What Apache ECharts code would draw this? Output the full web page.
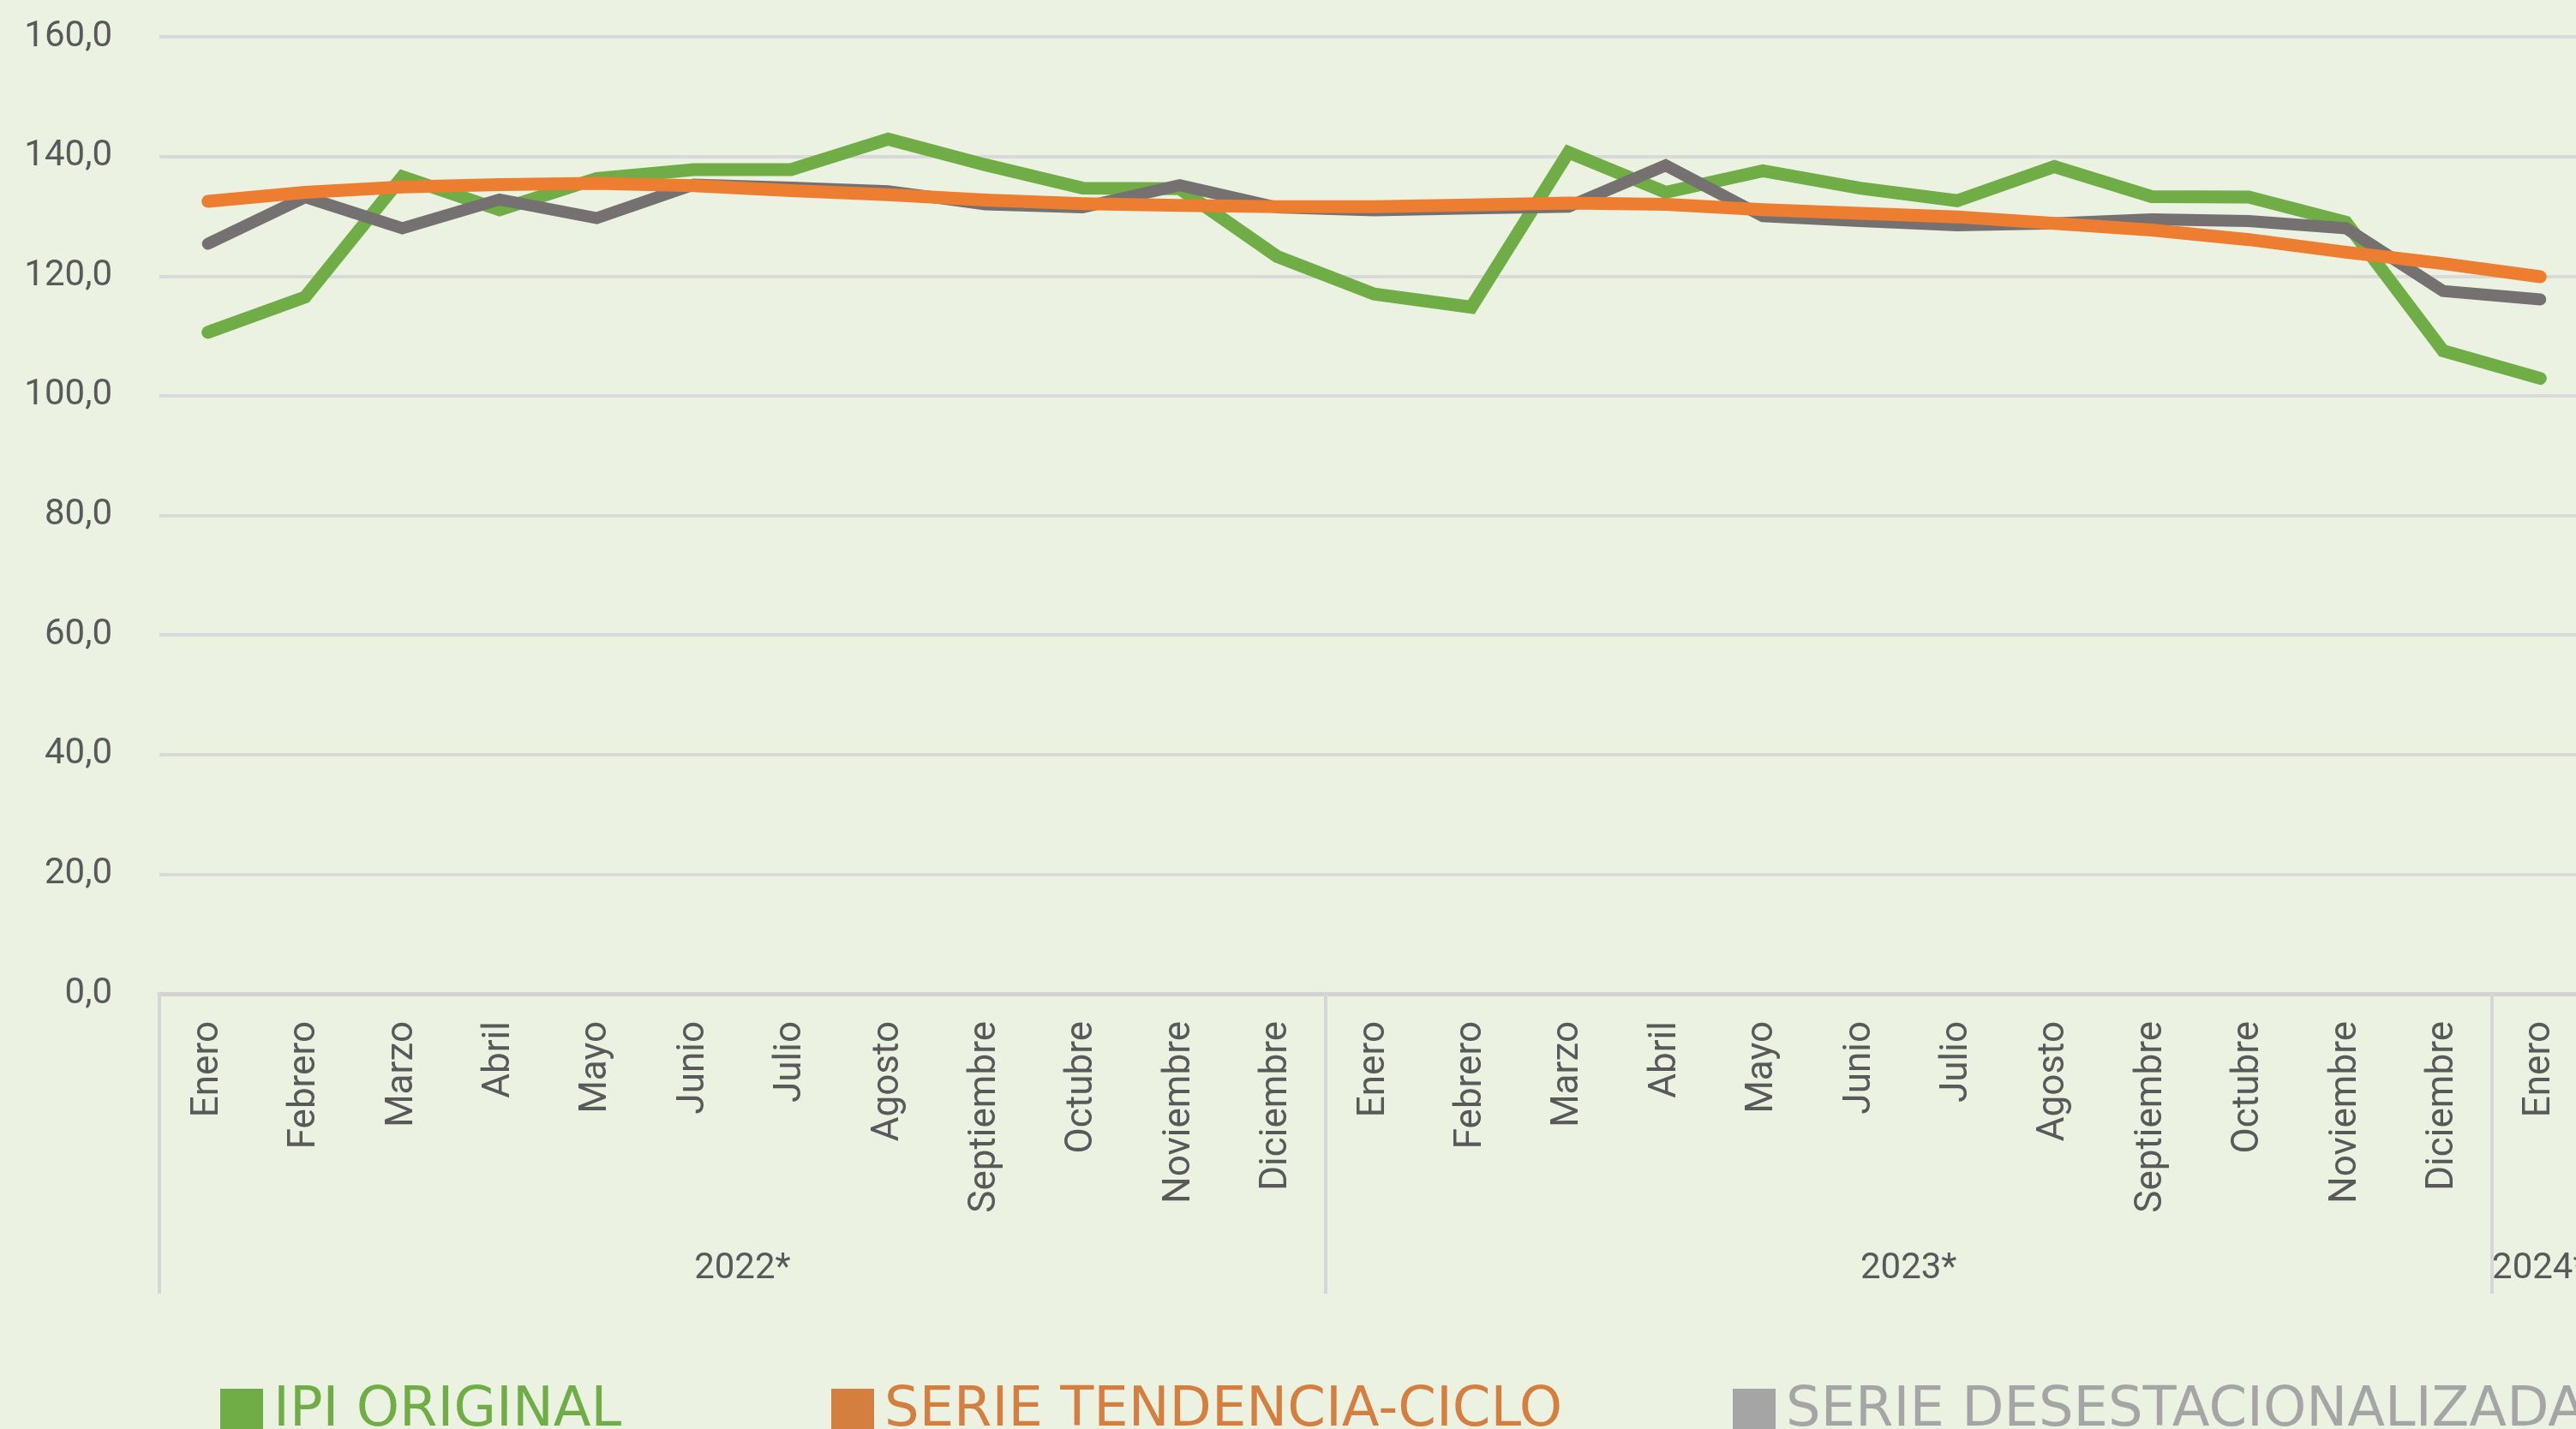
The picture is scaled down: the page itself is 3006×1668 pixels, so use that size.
<!DOCTYPE html>
<html>
<head>
<meta charset="utf-8">
<script src="https://cdn.jsdelivr.net/npm/echarts@6/dist/echarts.min.js"></script>
<style>
html,body{margin:0;padding:0;background:#EBF2E1;}
#chart{width:3006px;height:1668px;}
</style>
</head>
<body>
<div id="chart"></div>
<script>
// ---- data ----
const months = ['Enero','Febrero','Marzo','Abril','Mayo','Junio','Julio','Agosto','Septiembre','Octubre','Noviembre','Diciembre',
                'Enero','Febrero','Marzo','Abril','Mayo','Junio','Julio','Agosto','Septiembre','Octubre','Noviembre','Diciembre',
                'Enero'];
const yearLabels = ['2022*','2023*','2024*'];
const yearSpans = [12, 12, 1];
const yTicks = [0, 20, 40, 60, 80, 100, 120, 140, 160];

const ipiOriginal = [110.6,116.5,136.6,131.1,136.3,137.8,137.8,142.9,138.6,134.7,134.6,123.3,
                     117.0,114.8,140.7,134.0,137.6,134.7,132.6,138.3,133.3,133.2,129.0,107.5,
                     102.9];
const tendenciaCiclo = [132.5,134.0,134.9,135.3,135.5,135.1,134.3,133.6,132.7,132.1,131.8,131.6,
                        131.6,131.9,132.2,132.0,131.1,130.5,129.9,128.8,127.7,126.1,124.0,122.1,
                        119.9];
const desestacionalizada = [125.4,133.2,128.0,132.8,129.7,135.3,134.8,134.2,132.0,131.5,135.2,131.5,
                            131.0,131.3,131.6,138.5,130.0,129.2,128.5,128.8,129.5,129.2,128.0,117.5,
                            116.1];

const seriesNames = ['IPI ORIGINAL','SERIE TENDENCIA-CICLO','SERIE DESESTACIONALIZADA'];

// ---- build second-level (year) axis: half-band resolution ----
const halfSlots = [];
const yearLabelIdx = {};
const yearTickIdx = {};
let start = 0;
for (let i = 0; i <= months.length * 2; i++) halfSlots.push('');
yearLabels.forEach((lab, k) => {
  const idx = 2 * start + yearSpans[k];
  halfSlots[idx] = lab;
  yearLabelIdx[idx] = true;
  yearTickIdx[2 * start] = true;
  start += yearSpans[k];
});
yearTickIdx[2 * start] = true;

const gray = '#595959';
const chart = echarts.init(document.getElementById('chart'), null, {renderer: 'canvas'});

function legendFor(i, left, iconColor, textColor) {
  return {
    show: true,
    left: left, top: 1615,
    orient: 'horizontal',
    icon: 'rect',
    itemWidth: 50, itemHeight: 52,
    padding: 0,
    selectedMode: false,
    lineStyle: {opacity: 0},
    data: [{name: seriesNames[i], itemStyle: {color: iconColor}, textStyle: {color: textColor}}],
    textStyle: {fontFamily: 'DejaVu Sans', fontSize: 64, color: textColor, padding: [0, 0, 0, 7]}
  };
}

chart.setOption({
  animation: false,
  backgroundColor: '#EBF2E1',
  grid: {left: 186, top: 43, width: 2835, height: 1117, containLabel: false, outerBoundsMode: 'none'},
  legend: [
    legendFor(0, 257, '#70AD47', '#70AD47'),
    legendFor(1, 970, '#D47F40', '#D47F40'),
    legendFor(2, 2022, '#A5A5A5', '#A5A5A5')
  ],
  xAxis: [
    {
      type: 'category',
      data: months,
      boundaryGap: true,
      position: 'bottom',
      axisLine: {show: true, lineStyle: {color: '#D2D2D2', width: 5}},
      axisTick: {show: false},
      axisLabel: {
        interval: 0, rotate: 90, margin: 32,
        fontFamily: 'Roboto', fontSize: 44, color: gray
      },
      splitLine: {show: false}
    },
    {
      type: 'category',
      data: halfSlots,
      boundaryGap: false,
      position: 'bottom',
      axisLine: {show: false},
      axisTick: {
        show: true, inside: false, length: 350,
        interval: (i) => !!yearTickIdx[i],
        lineStyle: {color: '#D6D6D6', width: 4}
      },
      axisLabel: {
        show: true, margin: 300,
        interval: (i) => !!yearLabelIdx[i],
        fontFamily: 'Roboto', fontSize: 42, color: gray,
        verticalAlign: 'top'
      },
      splitLine: {show: false}
    }
  ],
  yAxis: {
    type: 'value',
    min: yTicks[0], max: yTicks[yTicks.length - 1], interval: 20,
    axisLine: {show: false},
    axisTick: {show: false},
    axisLabel: {
      margin: 55,
      fontFamily: 'Roboto', fontSize: 42, color: gray,
      formatter: (v) => v.toFixed(1).replace('.', ',')
    },
    splitLine: {show: true, lineStyle: {color: '#D9D9D9', width: 4}}
  },
  series: [
    {
      name: seriesNames[0], type: 'line', data: ipiOriginal, z: 2,
      showSymbol: false, symbol: 'none', smooth: false,
      itemStyle: {color: '#70AD47'},
      lineStyle: {color: '#70AD47', width: 15, cap: 'round', join: 'miter'}
    },
    {
      name: seriesNames[1], type: 'line', data: tendenciaCiclo, z: 4,
      showSymbol: false, symbol: 'none', smooth: false,
      itemStyle: {color: '#D47F40'},
      lineStyle: {color: '#ED7D31', width: 15, cap: 'round', join: 'miter'}
    },
    {
      name: seriesNames[2], type: 'line', data: desestacionalizada, z: 3,
      showSymbol: false, symbol: 'none', smooth: false,
      itemStyle: {color: '#A5A5A5'},
      lineStyle: {color: '#767171', width: 14, cap: 'round', join: 'miter'}
    }
  ]
});
</script>
</body>
</html>
